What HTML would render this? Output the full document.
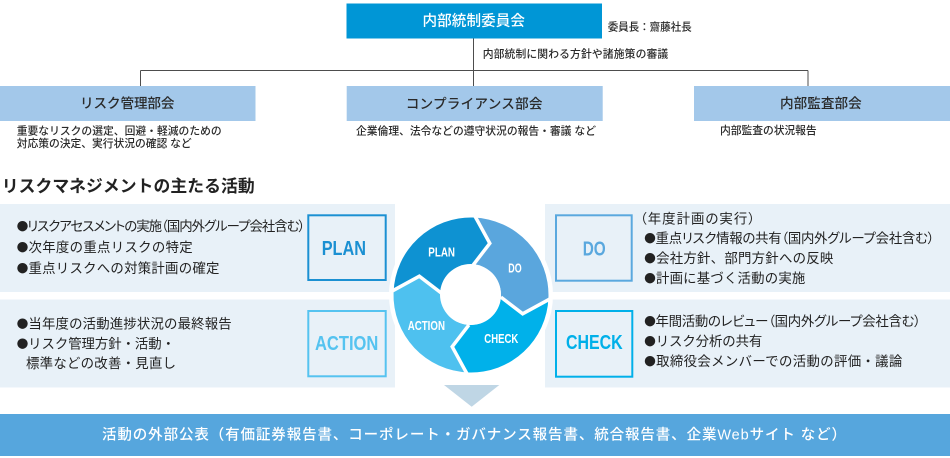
<!DOCTYPE html>
<html lang="ja">
<head>
<meta charset="utf-8">
<style>
  html,body{margin:0;padding:0;background:#fff;}
  svg{display:block;}
  text{font-family:"Liberation Sans","Noto Sans CJK JP",sans-serif;dominant-baseline:central;}
  .palt{font-feature-settings:"palt";}
  .lat{font-family:"Liberation Sans",sans-serif;font-weight:bold;}
  .b{font-family:"Noto Sans CJK JP",sans-serif;}
  .m{font-weight:500;}
</style>
</head>
<body>
<svg width="950" height="458" viewBox="0 0 950 458" xmlns="http://www.w3.org/2000/svg">
  <!-- connectors -->
  <g stroke="#4d4d4d" stroke-width="1" fill="none">
    <line x1="473.5" y1="38" x2="473.5" y2="86"/>
    <line x1="140.5" y1="70.5" x2="808" y2="70.5"/>
    <line x1="140.5" y1="70.5" x2="140.5" y2="86"/>
    <line x1="808" y1="70.5" x2="808" y2="86"/>
  </g>

  <!-- top committee -->
  <rect x="346.5" y="3.5" width="255.5" height="35" fill="#0096d6"/>
  <text class="m" x="422.5" y="21.5" font-size="14.6" fill="#ffffff" textLength="102.5" lengthAdjust="spacing">内部統制委員会</text>
  <text class="m" x="607.7" y="27.7" font-size="10.6" fill="#2a2a2a" textLength="84" lengthAdjust="spacing">委員長：齋藤社長</text>
  <text class="m" x="482.7" y="54.3" font-size="10.8" fill="#2a2a2a" textLength="185.5" lengthAdjust="spacing">内部統制に関わる方針や諸施策の審議</text>

  <!-- three departments -->
  <rect x="0" y="86" width="255.5" height="35" fill="#a3c8ea"/>
  <rect x="346.7" y="86" width="256" height="35" fill="#a3c8ea"/>
  <rect x="694" y="86" width="256" height="35" fill="#a3c8ea"/>
  <text class="m" x="80" y="103.5" font-size="13.6" fill="#2a2a2a" textLength="94.5" lengthAdjust="spacing">リスク管理部会</text>
  <text class="m" x="405.7" y="104" font-size="13.6" fill="#2a2a2a" textLength="136.8" lengthAdjust="spacing">コンプライアンス部会</text>
  <text class="m" x="780" y="103.5" font-size="13.6" fill="#2a2a2a" textLength="81.7" lengthAdjust="spacing">内部監査部会</text>

  <text class="m" x="16.7" y="131.6" font-size="10.8" fill="#2a2a2a" textLength="205" lengthAdjust="spacing">重要なリスクの選定、回避・軽減のための</text>
  <text class="m" x="16.7" y="143.8" font-size="10.8" fill="#2a2a2a" textLength="175" lengthAdjust="spacing">対応策の決定、実行状況の確認 など</text>
  <text class="m" x="356" y="131.6" font-size="10.8" fill="#2a2a2a" textLength="240" lengthAdjust="spacing">企業倫理、法令などの遵守状況の報告・審議 など</text>
  <text class="m" x="720" y="130.8" font-size="10.8" fill="#2a2a2a" textLength="96.7" lengthAdjust="spacing">内部監査の状況報告</text>

  <!-- section title -->
  <text x="1.7" y="186.7" font-size="16.8" font-weight="bold" fill="#222" textLength="253" lengthAdjust="spacing">リスクマネジメントの主たる活動</text>

  <!-- panels -->
  <rect x="0" y="204" width="395" height="88" fill="#e8f1f8"/>
  <rect x="0" y="299.5" width="395" height="88" fill="#e8f1f8"/>
  <rect x="545" y="204" width="405" height="88" fill="#e8f1f8"/>
  <rect x="545" y="299.5" width="405" height="88" fill="#e8f1f8"/>

  <!-- letter boxes -->
  <rect x="308.3" y="215.3" width="77.4" height="64.7" fill="none" stroke="#1b90d2" stroke-width="2"/>
  <rect x="308.3" y="311" width="77.4" height="65.3" fill="none" stroke="#55c3f0" stroke-width="2"/>
  <rect x="556" y="215.3" width="75.7" height="65.4" fill="none" stroke="#5aa8de" stroke-width="2"/>
  <rect x="556" y="311" width="76.3" height="65.7" fill="none" stroke="#00b0e9" stroke-width="2"/>
  <text class="lat" x="321.7" y="248.5" font-size="20.5" fill="#1b90d2" textLength="44.3" lengthAdjust="spacingAndGlyphs">PLAN</text>
  <text class="lat" x="315" y="343.5" font-size="20.5" fill="#55c3f0" textLength="63.3" lengthAdjust="spacingAndGlyphs">ACTION</text>
  <text class="lat" x="582.7" y="249" font-size="20.5" fill="#5aa8de" textLength="23" lengthAdjust="spacingAndGlyphs">DO</text>
  <text class="lat" x="566" y="342.5" font-size="20.5" fill="#00b0e9" textLength="56.7" lengthAdjust="spacingAndGlyphs">CHECK</text>

  <!-- left panel texts -->
  <text class="palt" x="16.7" y="226.7" font-size="13.4" fill="#222" textLength="288.5" lengthAdjust="spacing"><tspan class="b" font-size="11.5">●</tspan>リスクアセスメントの実施（国内外グループ会社含む）</text>
  <text x="16.7" y="247.7" font-size="13.4" fill="#222" textLength="176" lengthAdjust="spacing"><tspan class="b" font-size="11.5">●</tspan>次年度の重点リスクの特定</text>
  <text x="16.7" y="268.3" font-size="13.4" fill="#222" textLength="202.7" lengthAdjust="spacing"><tspan class="b" font-size="11.5">●</tspan>重点リスクへの対策計画の確定</text>
  <text x="16.7" y="324" font-size="13.4" fill="#222" textLength="215" lengthAdjust="spacing"><tspan class="b" font-size="11.5">●</tspan>当年度の活動進捗状況の最終報告</text>
  <text x="16.7" y="344" font-size="13.4" fill="#222" textLength="158.3" lengthAdjust="spacing"><tspan class="b" font-size="11.5">●</tspan>リスク管理方針・活動・</text>
  <text x="26" y="363.3" font-size="13.4" fill="#222" textLength="150" lengthAdjust="spacing">標準などの改善・見直し</text>

  <!-- right panel texts -->
  <text class="palt" x="640" y="219" font-size="13.4" fill="#222" textLength="115" lengthAdjust="spacing">（年度計画の実行）</text>
  <text class="palt" x="644.3" y="238.3" font-size="13.4" fill="#222" textLength="290" lengthAdjust="spacing"><tspan class="b" font-size="11.5">●</tspan>重点リスク情報の共有（国内外グループ会社含む）</text>
  <text x="644.3" y="258.3" font-size="13.4" fill="#222" textLength="189" lengthAdjust="spacing"><tspan class="b" font-size="11.5">●</tspan>会社方針、部門方針への反映</text>
  <text x="644.3" y="278.3" font-size="13.4" fill="#222" textLength="161" lengthAdjust="spacing"><tspan class="b" font-size="11.5">●</tspan>計画に基づく活動の実施</text>
  <text class="palt" x="644.3" y="321.7" font-size="13.4" fill="#222" textLength="276.5" lengthAdjust="spacing"><tspan class="b" font-size="11.5">●</tspan>年間活動のレビュー（国内外グループ会社含む）</text>
  <text x="644.3" y="341.7" font-size="13.4" fill="#222" textLength="118" lengthAdjust="spacing"><tspan class="b" font-size="11.5">●</tspan>リスク分析の共有</text>
  <text x="644.3" y="361.7" font-size="13.4" fill="#222" textLength="258" lengthAdjust="spacing"><tspan class="b" font-size="11.5">●</tspan>取締役会メンバーでの活動の評価・議論</text>

  <!-- PDCA cycle -->
  <circle cx="471" cy="295" r="82" fill="#ffffff"/>
  <path d="M393.55,292.3 A77.5,77.5 0 0 1 473.7,217.55 L489.8,243.3 L473.1,265.07 A30,30 0 0 0 441.07,292.91 L419.32,276.19 Z" fill="#0e92d2"/>
  <path d="M473.7,217.55 A77.5,77.5 0 0 1 548.45,297.7 L522.68,313.81 L500.93,297.09 A30,30 0 0 0 473.1,265.07 L489.8,243.3 Z" fill="#5aa6dd"/>
  <path d="M548.45,297.7 A77.5,77.5 0 0 1 468.3,372.45 L452.19,346.68 L468.91,324.93 A30,30 0 0 0 500.93,297.09 L522.68,313.81 Z" fill="#00b1ea"/>
  <path d="M468.3,372.45 A77.5,77.5 0 0 1 393.55,292.3 L419.32,276.19 L441.07,292.91 A30,30 0 0 0 468.91,324.93 L452.19,346.68 Z" fill="#4ec1ef"/>
  <g stroke="#ffffff" stroke-width="3.5" fill="none" stroke-linejoin="miter">
    <polyline points="473.83,214.05 489.8,243.3 473.1,265.07"/>
    <polyline points="551.95,297.83 522.68,313.81 500.93,297.09"/>
    <polyline points="468.17,375.95 452.19,346.68 468.91,324.93"/>
    <polyline points="390.05,292.17 419.32,276.19 441.07,292.91"/>
  </g>
  <circle cx="470.5" cy="294.5" r="30.5" fill="#ffffff"/>
  <text class="lat" x="428.3" y="252" font-size="13" fill="#ffffff" textLength="26.7" lengthAdjust="spacingAndGlyphs">PLAN</text>
  <text class="lat" x="508.3" y="268" font-size="13" fill="#ffffff" textLength="13.4" lengthAdjust="spacingAndGlyphs">DO</text>
  <text class="lat" x="484.3" y="338.7" font-size="13" fill="#ffffff" textLength="34" lengthAdjust="spacingAndGlyphs">CHECK</text>
  <text class="lat" x="407.7" y="325.3" font-size="13" fill="#ffffff" textLength="37.3" lengthAdjust="spacingAndGlyphs">ACTION</text>

  <!-- down arrow -->
  <polygon points="444,385 499.3,385 471.7,406.7" fill="#bfd6e5"/>

  <!-- bottom bar -->
  <rect x="0" y="414" width="950" height="42" fill="#56a6dd"/>
  <text class="m" x="102" y="435.5" font-size="14.5" fill="#ffffff" textLength="744" lengthAdjust="spacing">活動の外部公表（有価証券報告書、コーポレート・ガバナンス報告書、統合報告書、企業Webサイト など）</text>
</svg>
</body>
</html>
